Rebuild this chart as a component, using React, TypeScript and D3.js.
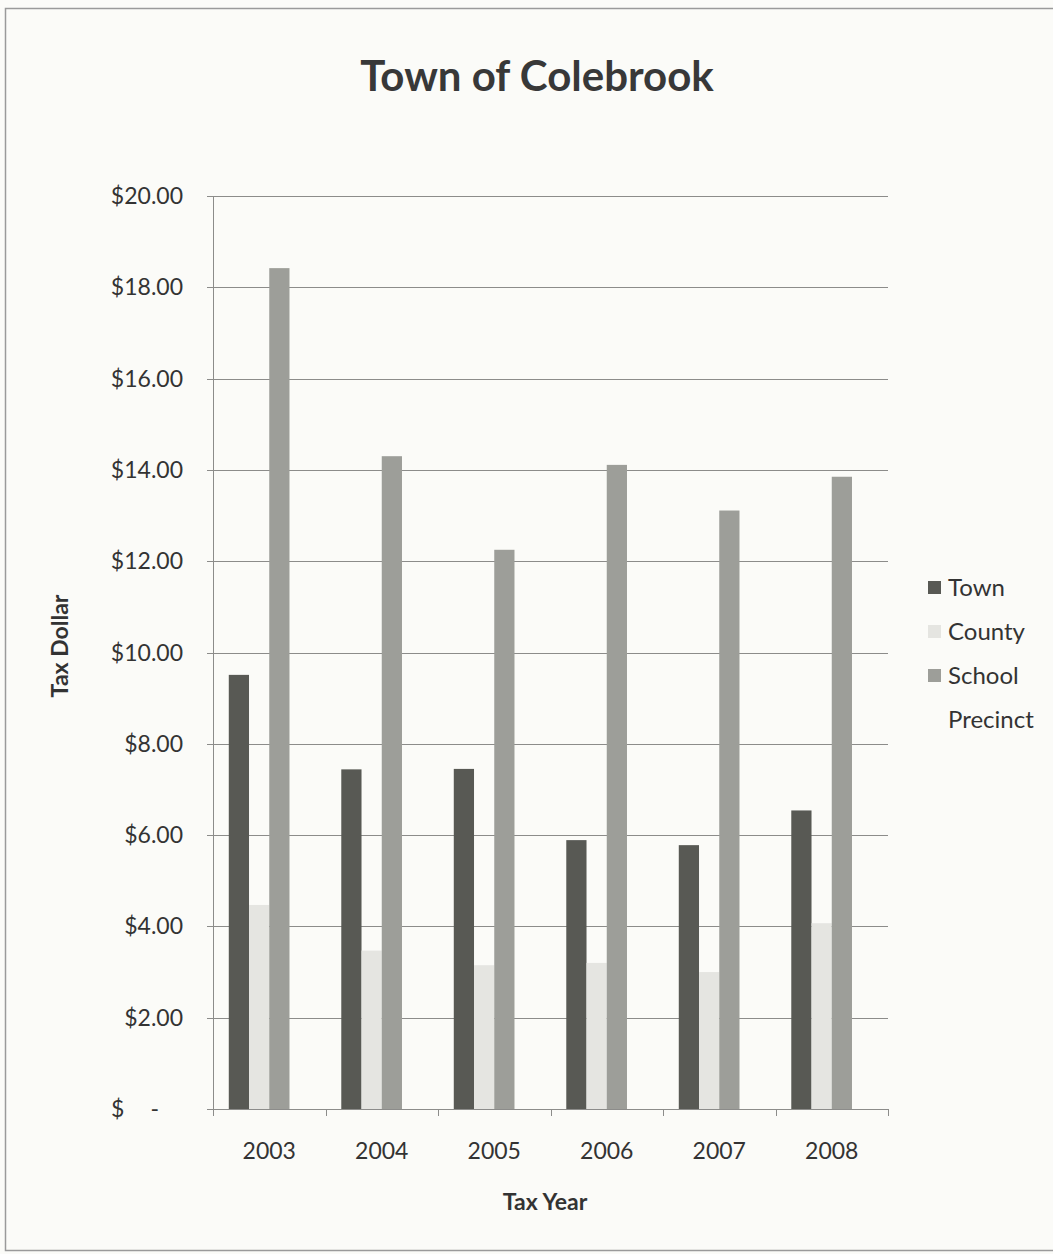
import React, { useEffect, useRef } from "react";
import * as d3 from "d3";

const years = ["2003", "2004", "2005", "2006", "2007", "2008"];
const seriesNames = ["Town", "County", "School", "Precinct"];
const townValues = [9.51, 7.44, 7.45, 5.89, 5.78, 6.54];
const countyValues = [4.47, 3.47, 3.15, 3.2, 3.0, 4.07];
const schoolValues = [18.42, 14.3, 12.25, 14.11, 13.11, 13.85];
const precinctValues = [0, 0, 0, 0, 0, 0];
const yTicks = [0, 2, 4, 6, 8, 10, 12, 14, 16, 18, 20];
const seriesColors = ["#585954", "#e5e5e1", "#9d9e99", "#fbfbf8"];

const FONT = "Lato, 'Open Sans', sans-serif";

export default function App() {
  const ref = useRef<SVGSVGElement>(null);

  useEffect(() => {
    const svg = d3.select(ref.current);
    svg.selectAll("*").remove();
    const W = 1053, H = 1254;
    const left = 213, right = 888, top = 196, bottom = 1109;

    svg.append("rect").attr("x", 0).attr("y", 0).attr("width", W).attr("height", H).attr("fill", "#fbfbf8");
    svg.append("rect").attr("x", 5.5).attr("y", 8.5).attr("width", W + 10).attr("height", H - 12)
      .attr("fill", "none").attr("stroke", "#9a9a9a").attr("stroke-width", 1.5);

    const values = [townValues, countyValues, schoolValues, precinctValues];

    const y = d3.scaleLinear().domain([0, 20]).range([bottom, top]);
    const x0 = d3.scaleBand<string>().domain(years).range([left, right]).padding(0);
    const x1 = d3.scaleBand<string>().domain(seriesNames).range([0, x0.bandwidth()]).paddingInner(0).paddingOuter(0.78);

    // gridlines
    svg.append("g").selectAll("line").data(yTicks.filter(d => d > 0)).join("line")
      .attr("x1", left).attr("x2", right)
      .attr("y1", d => Math.round(y(d)) + 0.5).attr("y2", d => Math.round(y(d)) + 0.5)
      .attr("stroke", "#8c8c8a").attr("stroke-width", 1);

    // bars
    const g = svg.append("g");
    seriesNames.forEach((s, si) => {
      g.selectAll(`rect.s${si}`).data(years).join("rect")
        .attr("class", `s${si}`)
        .attr("x", d => (x0(d) as number) + (x1(s) as number))
        .attr("width", x1.bandwidth())
        .attr("y", (d, i) => y(values[si][i]))
        .attr("height", (d, i) => bottom - y(values[si][i]))
        .attr("fill", seriesColors[si]);
    });

    // y axis
    svg.append("line").attr("x1", left + 0.5).attr("x2", left + 0.5).attr("y1", top).attr("y2", bottom)
      .attr("stroke", "#8c8c8a");
    svg.append("g").selectAll("line").data(yTicks).join("line")
      .attr("x1", left - 6).attr("x2", left)
      .attr("y1", d => Math.round(y(d)) + 0.5).attr("y2", d => Math.round(y(d)) + 0.5)
      .attr("stroke", "#8c8c8a");
    const yl = svg.append("g").attr("font-family", FONT).attr("font-size", 23).attr("fill", "#333");
    yTicks.forEach(t => {
      if (t === 0) {
        yl.append("text").attr("x", 111).attr("y", y(t) + 8).text("$");
        yl.append("text").attr("x", 159).attr("y", y(t) + 8).attr("text-anchor", "end").text("-");
      } else {
        yl.append("text").attr("x", 183).attr("y", y(t) + 8).attr("text-anchor", "end").text("$" + d3.format(".2f")(t));
      }
    });

    // x axis
    svg.append("line").attr("x1", left).attr("x2", right + 1).attr("y1", bottom + 0.5).attr("y2", bottom + 0.5)
      .attr("stroke", "#8c8c8a");
    const bounds = years.map(d => x0(d) as number).concat([right]);
    svg.append("g").selectAll("line").data(bounds).join("line")
      .attr("x1", d => Math.round(d) + 0.5).attr("x2", d => Math.round(d) + 0.5)
      .attr("y1", bottom).attr("y2", bottom + 7).attr("stroke", "#8c8c8a");
    svg.append("g").selectAll("text").data(years).join("text")
      .attr("x", d => (x0(d) as number) + x0.bandwidth() / 2)
      .attr("y", 1159)
      .attr("text-anchor", "middle").attr("font-family", FONT).attr("font-size", 23).attr("fill", "#333")
      .text(d => d);

    // titles
    svg.append("text").attr("x", 537).attr("y", 91).attr("text-anchor", "middle")
      .attr("font-family", FONT).attr("font-size", 42).attr("font-weight", 700).attr("fill", "#383838")
      .text("Town of Colebrook");
    svg.append("text").attr("x", 545).attr("y", 1210).attr("text-anchor", "middle")
      .attr("font-family", FONT).attr("font-size", 23).attr("font-weight", 700).attr("fill", "#333")
      .text("Tax Year");
    svg.append("text").attr("transform", `translate(68,646) rotate(-90)`).attr("text-anchor", "middle")
      .attr("font-family", FONT).attr("font-size", 23).attr("font-weight", 700).attr("fill", "#333")
      .text("Tax Dollar");

    // legend
    const lg = svg.append("g");
    seriesNames.forEach((s, i) => {
      const ly = 587.5 + i * 44;
      lg.append("rect").attr("x", 928).attr("y", ly - 6.5).attr("width", 13).attr("height", 13)
        .attr("fill", seriesColors[i]);
      lg.append("text").attr("x", 948).attr("y", ly + 8).attr("font-family", FONT).attr("font-size", 24)
        .attr("fill", "#333").text(s);
    });
  }, []);

  return (
    <div style={{ position: "absolute", left: 0, top: 0 }}>
      <svg ref={ref} width={1053} height={1254} style={{ display: "block" }} />
    </div>
  );
}
